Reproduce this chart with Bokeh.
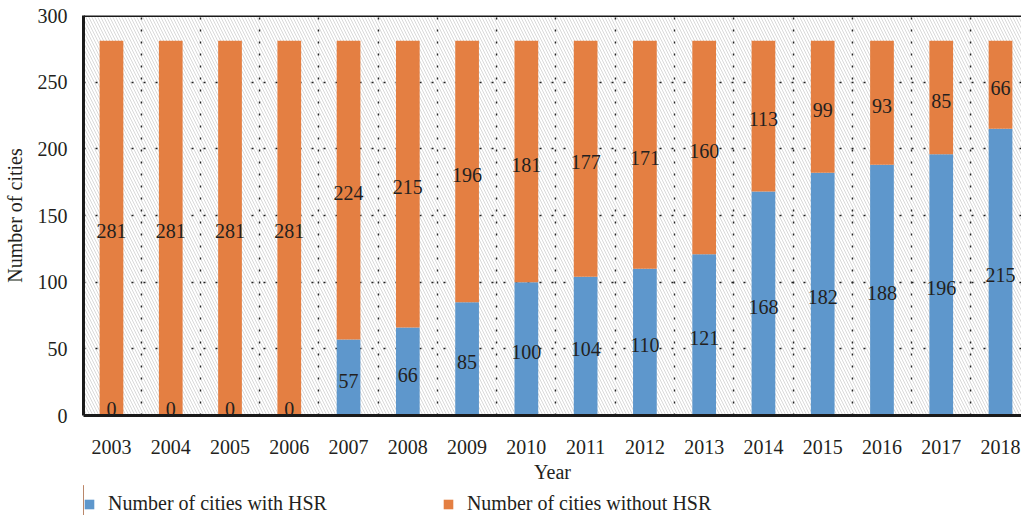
from bokeh.plotting import figure
from bokeh.layouts import column
from bokeh.models import (ColumnDataSource, Range1d, FixedTicker, Grid, Span,
                          BoxAnnotation, Legend, LegendItem, LabelSet)
from bokeh.embed import file_html
from bokeh.resources import INLINE

years = ["2003", "2004", "2005", "2006", "2007", "2008", "2009", "2010",
         "2011", "2012", "2013", "2014", "2015", "2016", "2017", "2018"]
with_hsr = [0, 0, 0, 0, 57, 66, 85, 100, 104, 110, 121, 168, 182, 188, 196, 215]
without_hsr = [281, 281, 281, 281, 224, 215, 196, 181, 177, 171, 160, 113, 99, 93, 85, 66]
y_ticks = [0, 50, 100, 150, 200, 250, 300]
series_names = ["Number of cities with HSR", "Number of cities without HSR"]

BLUE = "#5e97cc"
ORANGE = "#e47f42"
TXT = "#231f20"
FONT = "Liberation Serif"

idx = list(range(len(years)))
src = ColumnDataSource(dict(
    x=idx, with_hsr=with_hsr, without_hsr=without_hsr,
    mid_with=[w / 2 for w in with_hsr],
    mid_without=[w + o / 2 for w, o in zip(with_hsr, without_hsr)],
    lab_with=[str(v) for v in with_hsr],
    lab_without=[str(v) for v in without_hsr],
    # zero labels are lifted so that they stay inside the plot frame
    off_with=[7 if v == 0 else -3 for v in with_hsr],
))

p = figure(frame_width=938, frame_height=400, output_backend="svg",
           toolbar_location=None,
           x_range=Range1d(-0.472, 15.354), y_range=Range1d(0, 300),
           min_border_left=83, min_border_right=0, min_border_top=15,
           min_border_bottom=70)
p.outline_line_color = None
p.background_fill_color = "white"
p.border_fill_color = "white"

# hatched background
p.add_layout(BoxAnnotation(fill_color="white", fill_alpha=1.0, line_color=None,
                           hatch_pattern="\\", hatch_color="#d9d9d9",
                           hatch_scale=6, hatch_weight=1, level="image"))

# grids
p.xgrid.visible = False
p.ygrid.ticker = FixedTicker(ticks=y_ticks[1:-1])
p.ygrid.grid_line_color = "#222222"
p.ygrid.grid_line_dash = "2 10"
p.ygrid.grid_line_width = 1.4
vgrid = Grid(dimension=0, ticker=FixedTicker(ticks=[i + 0.5 for i in idx]),
             grid_line_color="#222222", grid_line_dash="2 10", grid_line_width=1.4)
p.add_layout(vgrid)

rs = p.vbar_stack(["with_hsr", "without_hsr"], x="x", width=0.4,
                  color=[BLUE, ORANGE], line_color=None, source=src)

p.add_layout(LabelSet(x="x", y="mid_with", text="lab_with", source=src,
                      text_font=FONT, text_font_size="20px",
                      text_color=TXT, text_align="center",
                      text_baseline="middle", y_offset="off_with"))
p.add_layout(LabelSet(x="x", y="mid_without", text="lab_without", source=src,
                      text_font=FONT, text_font_size="20px",
                      text_color=TXT, text_align="center",
                      text_baseline="middle", y_offset=-3))

p.add_layout(Span(location=300, dimension="width", line_color="#1a1a1a",
                  line_width=3))

# axes
p.xaxis.ticker = FixedTicker(ticks=idx)
p.xaxis.major_label_overrides = {i: y for i, y in enumerate(years)}
p.yaxis.ticker = FixedTicker(ticks=y_ticks)
for ax in (p.xaxis, p.yaxis):
    ax.axis_line_color = "#1a1a1a"
    ax.axis_line_width = 3
    ax.major_tick_line_color = None
    ax.minor_tick_line_color = None
    ax.major_label_text_font = FONT
    ax.major_label_text_font_size = "20px"
    ax.major_label_text_color = TXT
    ax.axis_label_text_font = FONT
    ax.axis_label_text_font_size = "20px"
    ax.axis_label_text_font_style = "normal"
    ax.axis_label_text_color = TXT
p.xaxis.axis_label = "Year"
p.yaxis.axis_label = "Number of cities"
p.xaxis.major_label_standoff = 18
p.xaxis.axis_label_standoff = 4
p.yaxis.major_label_standoff = 10
p.yaxis.axis_label_standoff = 9

# legend row as a separate strip below the chart (its frame aligns with p's)
leg = figure(width=1021, height=30, output_backend="svg", toolbar_location=None,
             x_axis_type=None, y_axis_type=None,
             x_range=Range1d(100, 101), y_range=Range1d(0, 1),
             min_border=0)
leg.outline_line_color = None
leg.grid.visible = False
lrs = leg.vbar_stack(["with_hsr", "without_hsr"], x="x", width=0.4,
                     color=[BLUE, ORANGE], line_color=None, source=src)
legend = Legend(items=[LegendItem(label=series_names[0], renderers=[lrs[0]]),
                       LegendItem(label=series_names[1], renderers=[lrs[1]])],
                orientation="horizontal", location=(0, 0),
                glyph_width=12, glyph_height=12, label_standoff=13,
                spacing=115, padding=0, margin=0,
                border_line_color=None, background_fill_alpha=0,
                label_text_font=FONT, label_text_font_size="20px",
                label_text_color=TXT)
leg.add_layout(legend, "center")

layout = column(p, leg, spacing=0)
open("out.html", "w").write(file_html(layout, INLINE))
